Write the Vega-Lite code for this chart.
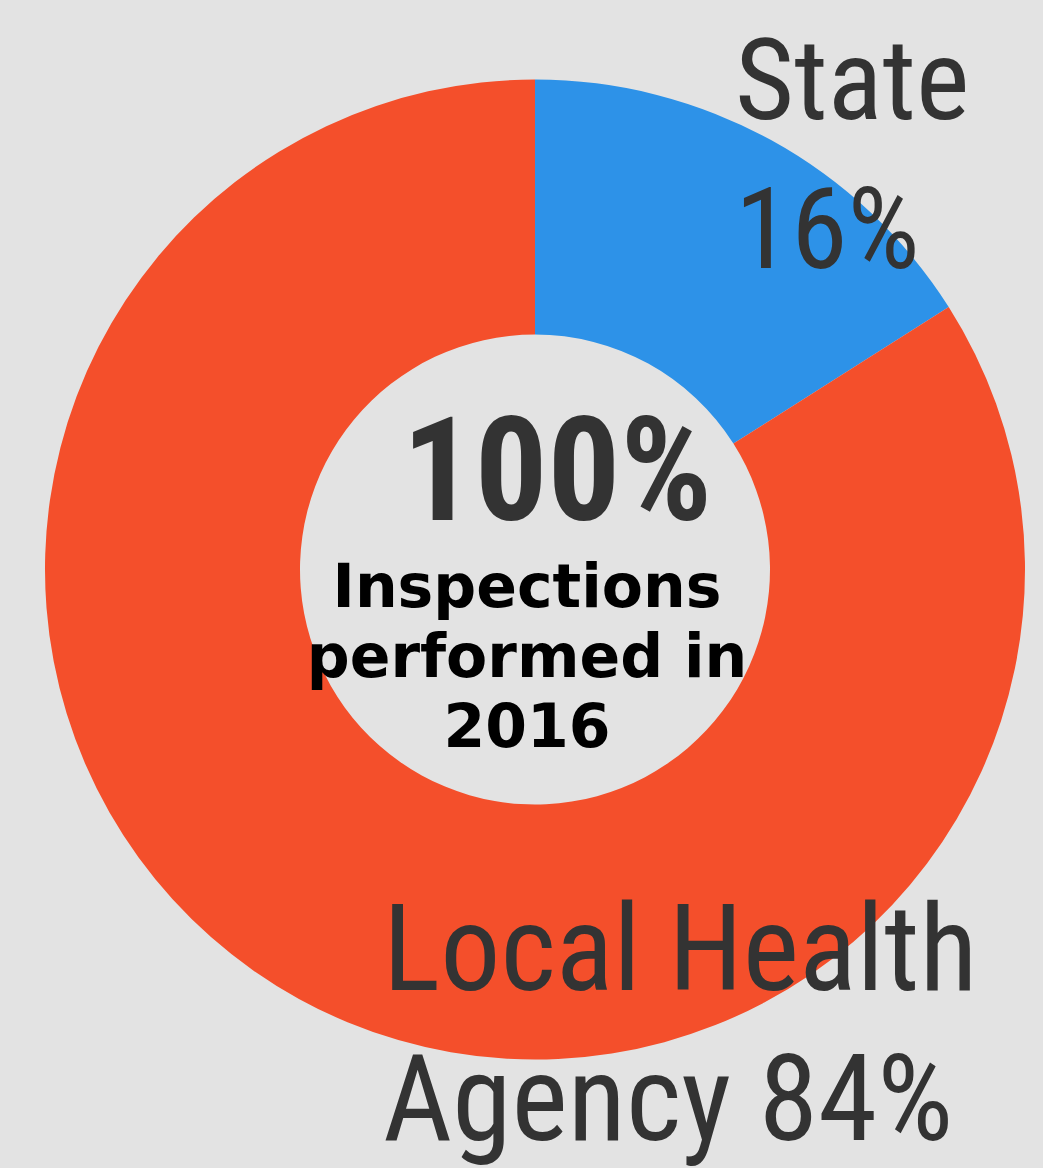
{
  "$schema": "https://vega.github.io/schema/vega-lite/v6.json",
  "width": 1043,
  "height": 1168,
  "autosize": {"type": "fit", "contains": "padding"},
  "padding": {"left": 27, "right": 0, "top": 0, "bottom": 18},
  "background": "#e3e3e3",
  "view": {"stroke": null},
  "data": {"values": [
    {"category": "State", "value": 16, "label": "State\n16%"},
    {"category": "Local Health Agency", "value": 84, "label": "Local Health\nAgency 84%"}
  ]},
  "layer": [
    {
      "mark": {"type": "arc", "radius": 490, "radius2": 235, "stroke": null},
      "encoding": {
        "theta": {"field": "value", "type": "quantitative", "stack": true},
        "order": {"field": "category", "sort": "descending"},
        "color": {"field": "category", "type": "nominal", "scale": {"domain": ["State", "Local Health Agency"], "range": ["#2d92e8", "#f44f2b"]}, "legend": null}
      }
    },
    {
      "mark": {"type": "text", "radius": 500, "align": "left", "baseline": "alphabetic", "dx": -41, "dy": -12, "lineBreak": "\n", "lineHeight": 149, "font": "Roboto Condensed, DejaVu Sans Condensed", "fontSize": 114, "color": "#333333"},
      "encoding": {
        "theta": {"field": "value", "type": "quantitative", "stack": true},
        "order": {"field": "category", "sort": "descending"},
        "text": {"condition": {"test": "datum.category === 'State'", "field": "label"}, "value": ""}
      }
    },
    {
      "mark": {"type": "text", "radius": 500, "align": "left", "baseline": "alphabetic", "dx": 89, "dy": -18, "lineBreak": "\n", "lineHeight": 150, "font": "Roboto Condensed, DejaVu Sans Condensed", "fontSize": 120, "color": "#333333"},
      "encoding": {
        "theta": {"field": "value", "type": "quantitative", "stack": true},
        "order": {"field": "category", "sort": "descending"},
        "text": {"condition": {"test": "datum.category === 'Local Health Agency'", "field": "label"}, "value": ""}
      }
    },
    {
      "data": {"values": [{"t": "100%"}]},
      "mark": {"type": "text", "align": "center", "baseline": "alphabetic", "dx": 22, "dy": -50, "font": "Roboto Condensed, Roboto", "fontWeight": "bold", "fontSize": 144, "color": "#333333"},
      "encoding": {"text": {"field": "t", "type": "nominal"}}
    },
    {
      "data": {"values": [{"t": "Inspections\nperformed in\n2016"}]},
      "mark": {"type": "text", "align": "center", "baseline": "alphabetic", "dx": -8, "dy": 37, "lineBreak": "\n", "lineHeight": 70, "font": "DejaVu Sans", "fontWeight": "bold", "fontSize": 60, "color": "#000000"},
      "encoding": {"text": {"field": "t", "type": "nominal"}}
    }
  ]
}
